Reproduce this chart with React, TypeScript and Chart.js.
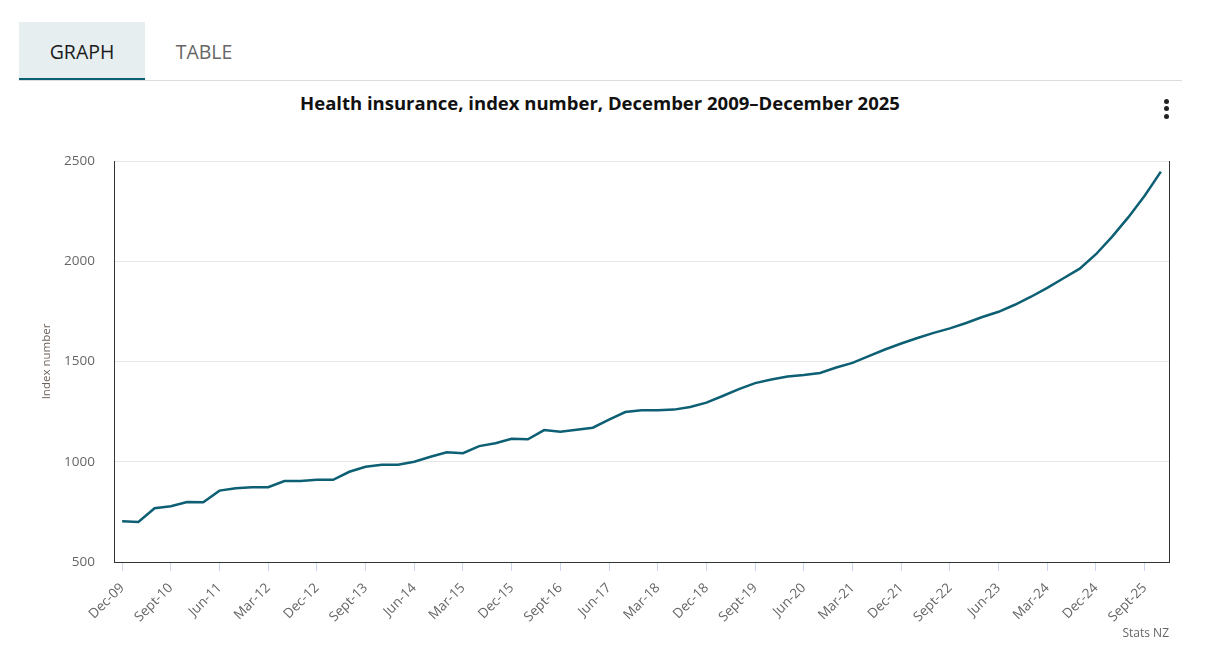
import React, { useEffect, useRef } from 'react';
import { Chart, registerables } from 'chart.js';

Chart.register(...registerables);

const categories = [
  'Dec-09', 'Mar-10', 'Jun-10', 'Sept-10', 'Dec-10', 'Mar-11', 'Jun-11', 'Sept-11',
  'Dec-11', 'Mar-12', 'Jun-12', 'Sept-12', 'Dec-12', 'Mar-13', 'Jun-13', 'Sept-13',
  'Dec-13', 'Mar-14', 'Jun-14', 'Sept-14', 'Dec-14', 'Mar-15', 'Jun-15', 'Sept-15',
  'Dec-15', 'Mar-16', 'Jun-16', 'Sept-16', 'Dec-16', 'Mar-17', 'Jun-17', 'Sept-17',
  'Dec-17', 'Mar-18', 'Jun-18', 'Sept-18', 'Dec-18', 'Mar-19', 'Jun-19', 'Sept-19',
  'Dec-19', 'Mar-20', 'Jun-20', 'Sept-20', 'Dec-20', 'Mar-21', 'Jun-21', 'Sept-21',
  'Dec-21', 'Mar-22', 'Jun-22', 'Sept-22', 'Dec-22', 'Mar-23', 'Jun-23', 'Sept-23',
  'Dec-23', 'Mar-24', 'Jun-24', 'Sept-24', 'Dec-24', 'Mar-25', 'Jun-25', 'Sept-25',
  'Dec-25',
];

const healthInsurance = [
  703, 700, 768, 778, 799, 798, 856, 868,
  873, 873, 904, 904, 910, 910, 950, 975,
  985, 985, 1000, 1025, 1047, 1043, 1078, 1092,
  1115, 1112, 1158, 1150, 1160, 1170, 1210, 1248,
  1257, 1257, 1260, 1273, 1295, 1328, 1362, 1392,
  1410, 1425, 1433, 1443, 1470, 1493, 1527, 1560,
  1590, 1617, 1643, 1665, 1692, 1722, 1748, 1783,
  1823, 1867, 1915, 1963, 2035, 2123, 2220, 2327,
  2447,
];

const yMin = 500;
const yMax = 2500;
const yStep = 500;
const labelEvery = 3;

const FONT = '"Open Sans", Lato, sans-serif';

export default function App() {
  const canvasRef = useRef<HTMLCanvasElement | null>(null);

  useEffect(() => {
    if (!canvasRef.current) return;
    const chart = new Chart(canvasRef.current, {
      type: 'line',
      data: {
        labels: categories,
        datasets: [
          {
            label: 'Health insurance',
            data: healthInsurance,
            borderColor: '#0d5f74',
            borderWidth: 2.5,
            pointRadius: 0,
            tension: 0,
            fill: false,
          },
        ],
      },
      options: {
        animation: false,
        responsive: false,
        maintainAspectRatio: false,
        layout: { padding: { top: 21, left: 0, right: 0, bottom: 0 } },
        plugins: {
          legend: { display: false },
          tooltip: { enabled: false },
          title: { display: false },
        },
        scales: {
          x: {
            type: 'category',
            offset: true,
            grid: {
              display: true,
              drawOnChartArea: false,
              drawTicks: true,
              tickLength: 9,
              color: (ctx: any) => (ctx.index % labelEvery === 0 ? '#ccd6eb' : 'rgba(0,0,0,0)'),
              lineWidth: 1,
            },
            border: { display: true, color: '#333333', width: 1 },
            ticks: {
              autoSkip: false,
              minRotation: 45,
              maxRotation: 45,
              padding: 9,
              color: '#666666',
              font: { family: FONT, size: 13.5 },
              callback: (_v: any, i: number) => (i % labelEvery === 0 ? categories[i] : ''),
            },
            afterFit: (scale: any) => {
              scale.height = 88;
              scale.paddingLeft = 0;
              scale.paddingRight = 0;
            },
          },
          y: {
            type: 'linear',
            position: 'left',
            min: yMin,
            max: yMax,
            ticks: {
              stepSize: yStep,
              padding: 19,
              color: '#666666',
              font: { family: FONT, size: 13.5 },
              callback: (v: any) => String(v),
            },
            grid: { color: '#e6e6e6', lineWidth: 1, drawTicks: false },
            border: { display: true, color: '#333333', width: 1 },
            title: {
              display: true,
              text: 'Index number',
              color: '#6b5f58',
              font: { family: FONT, size: 11.5 },
              padding: { top: 40, bottom: 0 },
            },
            afterFit: (scale: any) => {
              scale.width = 114;
              scale.paddingTop = 8;
              scale.paddingBottom = 8;
            },
          },
          yRight: {
            type: 'linear',
            position: 'right',
            min: yMin,
            max: yMax,
            ticks: { display: false },
            grid: { display: false, drawTicks: false },
            border: { display: true, color: '#333333', width: 1 },
            afterFit: (scale: any) => {
              scale.width = 31;
              scale.paddingTop = 0;
              scale.paddingBottom = 0;
            },
          },
        },
      },
    });
    return () => chart.destroy();
  }, []);

  return (
    <div style={{ position: 'absolute', left: 0, top: 0, width: 1220, height: 659, background: '#fff', fontFamily: FONT }}>
      {/* Tabs */}
      <div style={{ position: 'absolute', left: 19, top: 22, width: 126, height: 56, background: '#e6eef0', borderBottom: '3px solid #0d5f74' }} />
      <div style={{ position: 'absolute', left: 19, top: 80, width: 1163, height: 1, background: '#dddddd' }} />
      <div style={{ position: 'absolute', left: 19, top: 22, width: 126, height: 58, display: 'flex', alignItems: 'center', justifyContent: 'center', fontSize: 19.5, color: '#1a1a1a' }}>GRAPH</div>
      <div style={{ position: 'absolute', left: 150, top: 22, width: 108, height: 58, display: 'flex', alignItems: 'center', justifyContent: 'center', fontSize: 19.5, color: '#666666' }}>TABLE</div>
      {/* Title */}
      <div style={{ position: 'absolute', left: 0, top: 90, width: 1200, textAlign: 'center', fontSize: 18.5, fontWeight: 700, color: '#111111' }}>
        Health insurance, index number, December 2009–December 2025
      </div>
      {/* Kebab menu */}
      {[101, 108.5, 116].map((t) => (
        <div key={t} style={{ position: 'absolute', left: 1163.5, top: t - 2.5, width: 5, height: 5, borderRadius: '50%', background: '#222' }} />
      ))}
      {/* Chart */}
      <canvas ref={canvasRef} width={1200} height={510} style={{ position: 'absolute', left: 0, top: 140, width: 1200, height: 510 }} />
      {/* Credit */}
      <div style={{ position: 'absolute', left: 1069, top: 624, width: 100, textAlign: 'right', fontSize: 12, color: '#666666' }}>Stats NZ</div>
    </div>
  );
}
